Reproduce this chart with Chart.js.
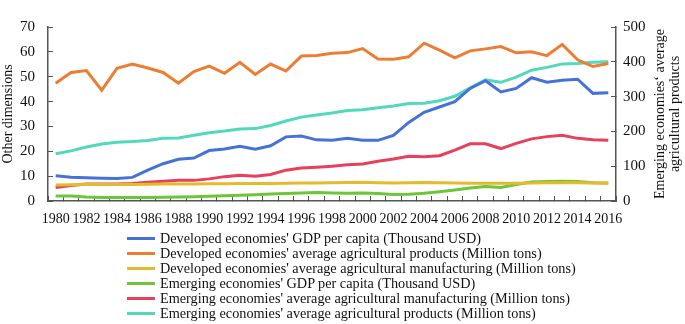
<!DOCTYPE html>
<html>
<head>
<meta charset="utf-8">
<script src="https://cdn.jsdelivr.net/npm/chart.js@4"></script>
<style>
  body { margin: 0; background: #fff; }
  #wrap { position: relative; width: 685px; height: 324px; }
  #legend {
    position: absolute; left: 127px; top: 231px;
    font-family: "Liberation Serif", "Times New Roman", serif;
    font-size: 14.25px; line-height: 15px; color: #111;
  }
  #legend .row { display: flex; align-items: center; white-space: nowrap; }
  #legend .swatch { width: 28px; height: 3px; margin-right: 5px; }
</style>
</head>
<body>
<div id="wrap">
  <canvas id="mainChart" width="685" height="324"></canvas>
  <div id="legend"></div>
</div>
<script>
// ===== data =====
const years = [];
for (let y = 1980; y <= 2016; y++) years.push(String(y));

const devGdp = [10.2, 9.6, 9.4, 9.2, 9.1, 9.5, 12.4, 15.0, 16.8, 17.3, 20.3, 20.9, 22.0, 20.8, 22.2, 25.8, 26.1, 24.6, 24.4, 25.2, 24.4, 24.4, 26.4, 31.6, 35.7, 37.8, 40.0, 45.3, 48.4, 43.9, 45.3, 49.6, 47.8, 48.6, 49.0, 43.3, 43.5];
const devAgriProducts = [47.4, 51.7, 52.5, 44.6, 53.4, 55.1, 53.5, 51.7, 47.4, 52.1, 54.3, 51.4, 55.8, 50.9, 55.1, 52.3, 58.3, 58.5, 59.4, 59.7, 61.3, 57.1, 57.0, 58.0, 63.5, 60.7, 57.6, 60.4, 61.2, 62.1, 59.6, 60.0, 58.5, 63.0, 56.8, 54.1, 55.3];
const devAgriManuf = [6.4, 6.5, 6.6, 6.6, 6.6, 6.6, 6.7, 6.8, 6.8, 6.8, 6.9, 6.9, 7.0, 7.0, 7.0, 7.1, 7.2, 7.2, 7.3, 7.4, 7.5, 7.3, 7.2, 7.3, 7.4, 7.3, 7.2, 7.1, 7.1, 7.1, 7.1, 7.2, 7.3, 7.3, 7.3, 7.2, 7.1];
const emgGdp = [2.0, 2.0, 1.6, 1.4, 1.4, 1.4, 1.4, 1.5, 1.6, 1.7, 1.9, 2.1, 2.3, 2.5, 2.8, 3.0, 3.2, 3.4, 3.2, 3.1, 3.2, 3.0, 2.6, 2.7, 3.1, 3.7, 4.4, 5.2, 5.8, 5.4, 6.6, 7.6, 7.8, 7.9, 7.8, 7.3, 7.2];
const emgAgriManuf = [5.4, 6.2, 6.8, 6.8, 6.8, 7.0, 7.5, 7.9, 8.3, 8.3, 8.9, 9.8, 10.4, 10.0, 10.7, 12.4, 13.3, 13.6, 14.0, 14.6, 14.9, 16.0, 16.9, 18.0, 17.8, 18.2, 20.5, 23.0, 23.0, 21.1, 23.2, 25.0, 25.9, 26.4, 25.2, 24.6, 24.4];
// right axis
const emgAgriProducts = [136, 144, 155, 164, 169, 171, 174, 180, 181, 189, 196, 201, 207, 208, 217, 230, 241, 247, 253, 260, 262, 268, 273, 280, 281, 288, 301, 325, 348, 341, 356, 376, 384, 394, 395, 399, 400];

const seriesNames = [
  "Developed economies' GDP per capita (Thousand USD)",
  "Developed economies' average agricultural products (Million tons)",
  "Developed economies' average agricultural manufacturing (Million tons)",
  "Emerging economies' GDP per capita (Thousand USD)",
  "Emerging economies' average agricultural manufacturing (Million tons)",
  "Emerging economies' average agricultural products (Million tons)",
];
const seriesColors = ["#4672d8", "#ec7d32", "#e4bb2d", "#6dc63a", "#e6405c", "#52d8bc"];

const FONT = "'Liberation Serif', 'Times New Roman', serif";

// tiêu đề trục phải, xoay -90 độ
const rightTitle = {
  id: "rightTitle",
  afterDraw(chart) {
    const ctx = chart.ctx;
    const area = chart.chartArea;
    const cy = (area.top + area.bottom) / 2;
    ctx.save();
    ctx.fillStyle = "#111";
    ctx.font = "14px " + FONT;
    ctx.textAlign = "center";
    ctx.textBaseline = "middle";
    const lines = ["Emerging economies\u2018 average", "agricultural products"];
    lines.forEach((t, i) => {
      ctx.save();
      ctx.translate(660 + i * 15, cy);
      ctx.rotate(-Math.PI / 2);
      ctx.fillText(t, 0, 0);
      ctx.restore();
    });
    ctx.restore();
  },
};

const allData = [devGdp, devAgriProducts, devAgriManuf, emgGdp, emgAgriManuf, emgAgriProducts];

const ctx = document.getElementById("mainChart");
new Chart(ctx.getContext("2d"), {
  type: "line",
  data: {
    labels: years,
    datasets: allData.map((d, i) => ({
      label: seriesNames[i],
      data: d,
      borderColor: seriesColors[i],
      backgroundColor: seriesColors[i],
      borderWidth: 3,
      pointRadius: 0,
      tension: 0,
      yAxisID: i === 5 ? "y2" : "y",
    })),
  },
  options: {
    responsive: false,
    devicePixelRatio: 1,
    animation: false,
    layout: { padding: { top: 0, right: 0, left: 0, bottom: 0 } },
    plugins: {
      legend: { display: false },
      tooltip: { enabled: false },
    },
    scales: {
      x: {
        offset: true,
        grid: { offset: true, drawOnChartArea: false, tickLength: -5, color: "#555" },
        border: { color: "#555", width: 1.5 },
        ticks: {
          autoSkip: false,
          maxRotation: 0,
          padding: 15,
          color: "#111",
          font: { family: FONT, size: 14 },
          callback: function (v, i) {
            return i % 2 === 0 ? years[i] : "";
          },
        },
        afterFit: (s) => { s.height = 123; },
      },
      y: {
        position: "left",
        min: 0,
        max: 70,
        grid: { drawOnChartArea: false, tickLength: -5, color: "#555" },
        border: { color: "#555", width: 1.5 },
        ticks: { stepSize: 10, padding: 18, color: "#111", font: { family: FONT, size: 15 } },
        title: {
          display: true,
          text: "Other dimensions",
          color: "#111",
          padding: 0,
          font: { family: FONT, size: 14 },
        },
        afterFit: (s) => { s.width = 48; },
      },
      y2: {
        position: "right",
        min: 0,
        max: 500,
        grid: { drawOnChartArea: false, tickLength: -5, color: "#555" },
        border: { color: "#555", width: 1.5 },
        ticks: { stepSize: 100, padding: 12, color: "#111", font: { family: FONT, size: 15 } },
        afterFit: (s) => { s.width = 69; },
      },
    },
  },
  plugins: [rightTitle],
});

// chú thích HTML
const legendEl = document.getElementById("legend");
seriesNames.forEach((name, i) => {
  const row = document.createElement("div");
  row.className = "row";
  const sw = document.createElement("span");
  sw.className = "swatch";
  sw.style.background = seriesColors[i];
  const txt = document.createElement("span");
  txt.textContent = name;
  row.appendChild(sw);
  row.appendChild(txt);
  legendEl.appendChild(row);
});
</script>
</body>
</html>
